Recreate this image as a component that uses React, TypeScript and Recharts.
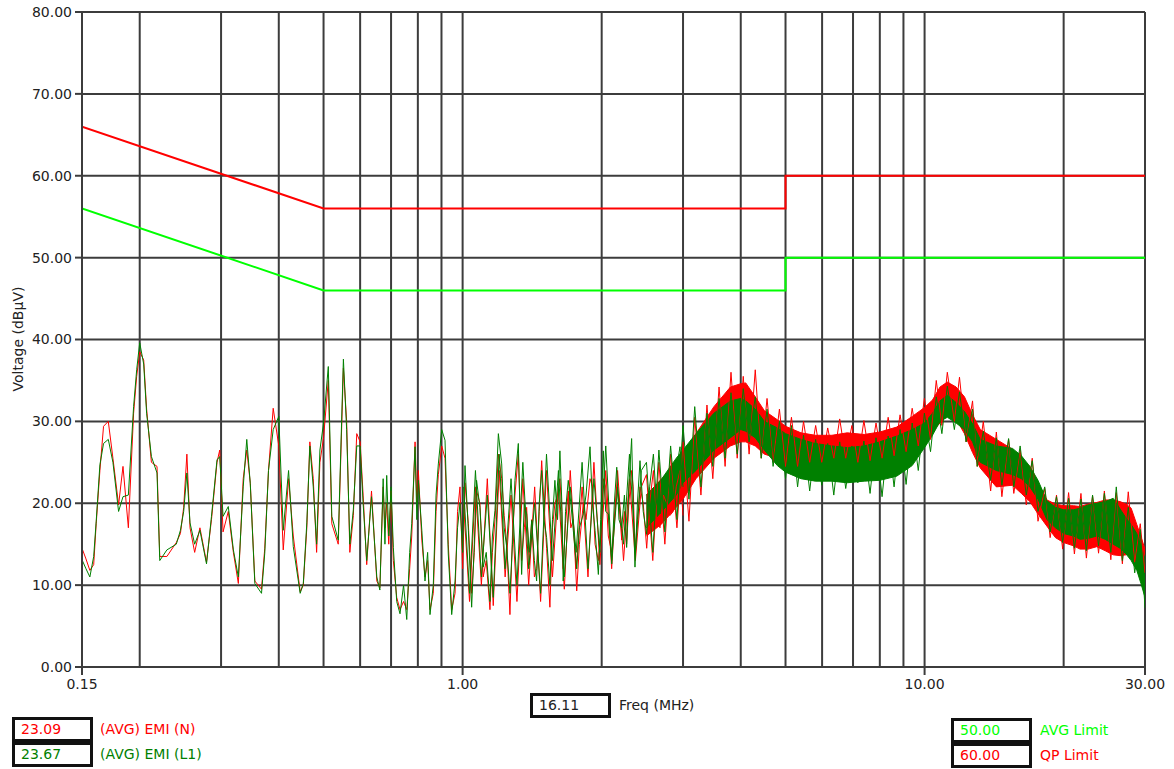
import { ComposedChart, Line, Area, XAxis, YAxis, CartesianGrid } from "recharts";

// Low band (0.15 - 3 MHz) trace readings, MHz / dBµV
const LOW_FREQ = [
  0.150, 0.153, 0.156, 0.159, 0.161, 0.164, 0.167, 0.171, 0.175, 0.180,
  0.184, 0.189, 0.194, 0.197, 0.200, 0.204, 0.207, 0.212, 0.218, 0.221,
  0.229, 0.240, 0.245, 0.249, 0.253, 0.257, 0.263, 0.270, 0.279, 0.286,
  0.294, 0.298, 0.303, 0.311, 0.319, 0.327, 0.335, 0.341, 0.347, 0.355,
  0.367, 0.373, 0.380, 0.389, 0.400, 0.409, 0.420, 0.430, 0.445, 0.452,
  0.460, 0.467, 0.475, 0.483, 0.491, 0.500, 0.512, 0.521, 0.538, 0.552,
  0.561, 0.570, 0.580, 0.590, 0.600, 0.609, 0.620, 0.635, 0.652, 0.662,
  0.673, 0.679, 0.685, 0.692, 0.700, 0.708, 0.720, 0.732, 0.745, 0.757,
  0.768, 0.776, 0.789, 0.796, 0.802, 0.816, 0.829, 0.840, 0.850, 0.864,
  0.876, 0.886, 0.901, 0.916, 0.931, 0.947, 0.963, 0.975, 0.987, 1.000,
  1.012, 1.029, 1.046, 1.060, 1.072, 1.090, 1.108, 1.125, 1.146, 1.160,
  1.175, 1.195, 1.215, 1.230, 1.246, 1.266, 1.282, 1.298, 1.320, 1.342,
  1.360, 1.376, 1.394, 1.411, 1.430, 1.446, 1.465, 1.483, 1.500, 1.520,
  1.545, 1.565, 1.584, 1.605, 1.624, 1.640, 1.651, 1.670, 1.693, 1.715,
  1.736, 1.766, 1.790, 1.825, 1.850, 1.887, 1.910, 1.935, 1.967, 1.990,
  2.016, 2.040, 2.067, 2.103, 2.130, 2.156, 2.180, 2.210, 2.240, 2.265,
  2.290, 2.322, 2.340, 2.361, 2.390, 2.421, 2.460, 2.503, 2.540, 2.588,
  2.630, 2.675, 2.720, 2.766, 2.810, 2.857, 2.900, 2.955, 3.000,
];

const EMI_L1 = [
  13.1, 12.0, 11.0, 13.5, 17.8, 24.7, 27.3, 27.8, 25.0, 19.0,
  20.8, 21.0, 31.8, 36.3, 39.6, 37.0, 31.0, 25.7, 23.7, 13.0,
  14.3, 15.0, 16.7, 19.0, 23.7, 17.6, 15.0, 16.7, 12.6, 18.4,
  25.3, 25.7, 18.4, 19.6, 14.3, 11.0, 22.0, 27.8, 22.4, 10.2,
  9.0, 13.9, 24.0, 29.0, 30.6, 16.7, 24.0, 14.7, 9.0, 10.2,
  17.6, 27.0, 22.0, 15.0, 26.5, 29.8, 36.7, 18.4, 15.5, 37.6,
  29.0, 15.0, 19.2, 27.0, 27.0, 20.0, 13.0, 20.8, 11.0, 9.4,
  23.0, 15.0, 23.4, 16.0, 22.0, 14.6, 8.0, 6.5, 10.0, 5.8,
  14.0, 17.5, 26.9, 18.0, 22.8, 16.7, 10.5, 14.0, 6.4, 10.0,
  21.0, 24.8, 29.0, 27.7, 13.8, 6.4, 10.5, 17.0, 20.0, 14.0,
  24.6, 16.7, 7.3, 15.0, 22.8, 19.5, 12.2, 14.0, 8.0, 16.0,
  19.1, 28.5, 24.8, 17.0, 14.6, 9.0, 15.0, 22.8, 27.3, 11.3,
  20.0, 18.7, 14.0, 17.9, 13.0, 10.5, 20.0, 24.0, 18.0, 15.8,
  10.0, 18.0, 22.8, 18.0, 26.4, 20.0, 10.5, 19.0, 22.8, 20.0,
  16.7, 12.0, 17.0, 18.7, 21.0, 26.9, 20.0, 16.7, 11.3, 18.0,
  26.4, 19.0, 18.7, 12.6, 20.0, 24.4, 18.0, 17.0, 21.0, 14.6,
  22.0, 27.9, 20.0, 12.2, 20.0, 25.2, 19.0, 16.2, 22.0, 26.0,
  20.0, 18.7, 23.0, 23.6, 21.0, 20.7, 24.0, 26.9, 22.0,
];

const EMI_N = [
  14.5, 13.2, 11.8, 12.5, 17.5, 24.0, 29.4, 30.0, 25.5, 19.8,
  24.5, 17.0, 31.0, 35.5, 38.5, 37.5, 31.5, 25.0, 24.5, 13.5,
  13.5, 15.2, 16.3, 19.5, 26.0, 17.0, 14.0, 17.0, 12.8, 18.0,
  25.0, 26.5, 16.5, 19.0, 14.0, 10.2, 23.0, 26.5, 22.5, 10.5,
  9.5, 14.5, 24.0, 31.6, 27.0, 14.3, 23.0, 16.0, 9.2, 10.0,
  17.0, 27.5, 23.0, 14.0, 25.0, 28.0, 35.0, 17.5, 15.0, 36.5,
  30.0, 14.0, 18.5, 28.5, 27.5, 21.0, 12.5, 21.5, 10.5, 9.7,
  22.0, 17.0, 20.0, 15.0, 21.5, 13.0, 8.5, 7.0, 8.0, 7.0,
  12.0, 16.0, 27.5, 20.0, 24.0, 15.5, 11.0, 13.0, 7.0, 9.0,
  19.0, 23.5, 27.0, 25.5, 15.0, 7.0, 9.0, 19.0, 22.0, 12.0,
  22.5, 17.5, 9.0, 14.0, 21.5, 20.0, 11.0, 13.0, 7.0, 14.0,
  18.0, 26.0, 23.0, 18.5, 15.0, 6.4, 16.0, 21.0, 26.0, 13.0,
  17.0, 19.5, 12.5, 18.0, 11.0, 12.0, 19.0, 25.2, 20.0, 14.5,
  7.3, 17.0, 20.0, 21.0, 23.0, 19.0, 12.0, 17.5, 21.5, 17.0,
  18.0, 9.3, 15.0, 20.0, 18.0, 23.0, 22.0, 15.0, 13.0, 16.0,
  23.0, 22.0, 16.0, 14.0, 18.0, 22.0, 20.0, 15.5, 19.0, 15.0,
  20.0, 24.0, 22.0, 14.0, 18.0, 22.0, 20.0, 14.5, 20.0, 24.0,
  18.0, 17.0, 21.0, 20.0, 18.5, 19.0, 22.0, 24.0, 18.5,
];

// Dense part (2.5 - 30 MHz): solid core of the noise, low/high
const BAND_FREQ = [
  2.5, 2.7, 2.9, 3.0, 3.2, 3.5, 3.8, 4.0, 4.1, 4.3,
  4.5, 4.8, 5.0, 5.4, 5.8, 6.3, 6.8, 7.4, 8.0, 8.7,
  9.4, 10.0, 10.4, 10.8, 11.2, 11.7, 12.2, 12.7, 13.2, 14.3,
  15.5, 16.2, 16.9, 17.6, 18.4, 19.2, 20.0, 21.0, 21.7, 22.6,
  23.6, 24.6, 25.6, 26.5, 27.3, 28.0, 28.8, 29.4, 30.0,
];
const L1_HI = [
  21, 23, 25.5, 26.5, 28.5, 31, 32.5, 32.8, 32.5, 31.5,
  30, 29.2, 28.5, 27.8, 27.3, 27, 26.8, 27, 27.5, 28.2,
  29, 29.8, 31, 32.5, 33.2, 32.3, 31.2, 29.7, 27.8, 27,
  26.7, 25.8, 24.5, 22.8, 20.3, 19.5, 19.2, 19.2, 19.4, 19.8,
  20, 20.2, 20.6, 19.3, 18.2, 17.4, 16.3, 14.8, 13.2,
];
const L1_LO = [
  17, 19, 21, 22.5, 24, 26.5, 28, 29, 28.8, 28,
  26.5, 24.6, 23.8, 23, 22.7, 22.7, 22.5, 22.7, 22.8, 23.3,
  24.6, 26.8, 28.3, 30, 30.5, 29.8, 29, 27.5, 25, 24,
  23.5, 23, 22, 20.5, 18, 17, 16.3, 16, 15.6, 15.7,
  16, 15.6, 15, 14.5, 13.8, 13, 11.8, 10.2, 8.5,
];
const N_HI = [
  21, 23, 25, 26, 28.5, 31.8, 34.2, 34.6, 34.7, 33,
  31.3, 30.2, 29.4, 28.6, 28.3, 28.3, 28.6, 28.4, 28.7, 29.3,
  30.6, 31.7, 32.6, 34.2, 34.8, 34.2, 33, 30.8, 29, 27.8,
  26.6, 25.3, 24.5, 22.4, 20.4, 19.9, 19.7, 19.7, 19.6, 19.9,
  20.1, 20.4, 20.4, 20.2, 19.9, 19.4, 17.4, 15.9, 14.4,
];
const N_LO = [
  16, 17.5, 19.5, 20.5, 23, 25.5, 27, 27.5, 27.5, 27,
  26, 25.5, 25.2, 25.4, 25.6, 25.8, 25.8, 25.6, 25.8, 26.3,
  27, 27.8, 28.8, 29.8, 30.8, 30.3, 28.5, 26.2, 24.3, 22,
  22.2, 21.2, 20.2, 18.7, 17.2, 15.8, 15.2, 14.8, 14.4, 14.4,
  14.7, 14.2, 13.7, 13.6, 13.7, 14.1, 13.6, 13.1, 12.2,
];

// Noise spikes reaching beyond the core (1 - 30 MHz)
const SPIKE_FREQ = [
  1.005, 1.035, 1.066, 1.098, 1.131, 1.165, 1.200, 1.236, 1.273, 1.311,
  1.350, 1.390, 1.432, 1.475, 1.519, 1.565, 1.612, 1.660, 1.710, 1.761,
  1.814, 1.868, 1.924, 1.982, 2.041, 2.102, 2.165, 2.230, 2.297, 2.366,
  2.437,
  2.50, 2.58, 2.66, 2.74, 2.82, 2.91, 3.00, 3.09, 3.18, 3.28,
  3.38, 3.48, 3.59, 3.70, 3.81, 3.93, 4.05, 4.17, 4.30, 4.43,
  4.56, 4.70, 4.85, 5.00, 5.15, 5.31, 5.47, 5.64, 5.81, 5.99,
  6.17, 6.36, 6.55, 6.75, 6.96, 7.17, 7.39, 7.62, 7.85, 8.09,
  8.34, 8.59, 8.85, 9.12, 9.40, 9.69, 9.99, 10.3, 10.6, 10.9,
  11.2, 11.6, 11.9, 12.3, 12.7, 13.0, 13.4, 13.9, 14.3, 14.7,
  15.2, 15.6, 16.1, 16.6, 17.1, 17.6, 18.2, 18.7, 19.3, 19.9,
  20.5, 21.1, 21.8, 22.4, 23.1, 23.8, 24.5, 25.3, 26.0, 26.8,
  27.6, 28.5, 29.3, 30.0,
];
const L1_SPIKES = [
  22, 9, 24, 11, 21, 8.5, 26, 12, 23, 10,
  25, 12, 20, 9, 26, 13, 24, 11, 22, 14,
  25, 12, 23, 14, 27, 13, 22, 15, 26, 14,
  24,
  25, 14, 26.5, 16.5, 27, 18, 29.5, 20.5, 31.8, 22,
  31, 24.5, 32.8, 25.5, 33.5, 26, 34, 27.5, 33, 25.5,
  31.5, 24.5, 30, 23, 29.5, 22, 28.3, 21.5, 27.8, 22.2,
  27.3, 21, 27.5, 21.8, 27, 22.5, 27.6, 21.2, 28, 20.8,
  28.2, 22, 29, 22.3, 29.8, 24, 31, 26.3, 33, 28.5,
  34.3, 29, 33.6, 27.5, 31.5, 24.5, 28.8, 22.8, 28, 22.2,
  27.9, 22, 27, 21, 25.2, 19, 22, 16.5, 20.8, 15.2,
  20.6, 14.5, 20.5, 14.2, 21, 14.8, 21.2, 14, 22, 13,
  19.5, 11.5, 16.8, 7.2,
];
const N_SPIKES = [
  20, 8, 22, 10, 23, 7.5, 24, 11, 21, 8,
  23, 10, 22, 8, 24, 11, 22, 9.5, 24, 12,
  22, 11, 25, 12.5, 24, 12, 24, 13, 23, 13,
  22,
  23.5, 13, 25, 15, 26, 17, 27.5, 17.8, 30.5, 21,
  32, 23, 34.2, 24.5, 36, 25.5, 35.5, 26, 36.3, 25.5,
  32.8, 25, 31.5, 24.5, 30.5, 24.5, 30, 25, 29.5, 25,
  29.2, 25.5, 30.3, 25.5, 29.5, 25, 30.1, 25.2, 29.8, 25.5,
  30.5, 25.8, 30.8, 26.3, 31.6, 27, 32.8, 27.8, 35, 29.5,
  36, 30, 35.4, 27.5, 32.5, 24.5, 30, 21.5, 28.7, 20.8,
  27.8, 21.2, 26.5, 19.8, 25.5, 17.8, 21.8, 15.8, 21, 14.4,
  21.3, 13.8, 21.2, 13.3, 20.9, 13.9, 21.5, 13.1, 21.3, 12.6,
  21.4, 12.8, 17.5, 11.5,
];

// Limits
const LIMIT_FREQ = [0.15, 0.5, 5, 5, 30];
const QP_LIMIT = [66, 56, 56, 60, 60];
const AVG_LIMIT = [56, 46, 46, 50, 50];

const X_TICKS = [0.15, 0.2, 0.3, 0.4, 0.5, 0.6, 0.7, 0.8, 0.9, 1, 2, 3, 4, 5, 6, 7, 8, 9, 10, 20, 30];
const X_LABELS = [0.15, 1, 10, 30];
const Y_TICKS = [0, 10, 20, 30, 40, 50, 60, 70, 80];

const FONT = '"DejaVu Sans", sans-serif';
const GRID = "#3c3c3c";
const RED = "#ff0000";
const GREEN = "#008000";
const LIME = "#00ff00";

const lowData = LOW_FREQ.map((f, i) => ({ f, n: EMI_N[i], l1: EMI_L1[i] }));
const bandData = BAND_FREQ.map((f, i) => ({ f, n: [N_LO[i], N_HI[i]], l1: [L1_LO[i], L1_HI[i]] }));
const spikeData = SPIKE_FREQ.map((f, i) => ({ f, n: N_SPIKES[i], l1: L1_SPIKES[i] }));
const limitData = LIMIT_FREQ.map((f, i) => ({ f, qp: QP_LIMIT[i], avg: AVG_LIMIT[i] }));

function FreqTick({ x, y, payload }: any) {
  if (!X_LABELS.includes(payload.value)) return <g />;
  return (
    <g>
      <line x1={x} x2={x} y1={y - 11} y2={y - 3} stroke={GRID} strokeWidth={2} />
      <text x={x} y={y} dy="0.75em" textAnchor="middle" fill="#222" fontSize={14} fontFamily={FONT}>
        {payload.value.toFixed(2)}
      </text>
    </g>
  );
}

function Readout({ left, top, value, color }: { left: number; top: number; value: string; color: string }) {
  return (
    <div
      style={{
        position: "absolute",
        left,
        top,
        width: 81,
        height: 25,
        boxSizing: "border-box",
        border: "3px solid #111",
        background: "#fff",
        color,
        paddingLeft: 6,
        lineHeight: "19px",
      }}
    >
      {value}
    </div>
  );
}

function Caption({ left, top, text, color }: { left: number; top: number; text: string; color: string }) {
  return (
    <div style={{ position: "absolute", left, top, lineHeight: "25px", color, whiteSpace: "nowrap" }}>{text}</div>
  );
}

export default function App() {
  return (
    <div
      style={{
        position: "absolute",
        left: 0,
        top: 0,
        width: 1174,
        height: 769,
        background: "#fff",
        fontFamily: FONT,
        fontSize: 14,
      }}
    >
      <ComposedChart width={1174} height={769} margin={{ top: 12, right: 29, bottom: 72, left: 0 }}>
        <CartesianGrid stroke={GRID} strokeWidth={2} />
        <XAxis
          dataKey="f"
          type="number"
          scale="log"
          domain={[0.15, 30]}
          allowDataOverflow
          ticks={X_TICKS}
          interval={0}
          height={30}
          tickSize={7}
          tickMargin={4}
          tickLine={false}
          axisLine={{ stroke: GRID, strokeWidth: 2 }}
          tick={<FreqTick />}
        />
        <YAxis
          type="number"
          domain={[0, 80]}
          ticks={Y_TICKS}
          interval={0}
          width={82}
          tickSize={7}
          tickMargin={3}
          tickFormatter={(v: number) => v.toFixed(2)}
          tick={{ fill: "#222", fontSize: 14, fontFamily: FONT }}
          tickLine={{ stroke: GRID, strokeWidth: 2 }}
          axisLine={{ stroke: GRID, strokeWidth: 2 }}
        />
        {/* EMI (N) - red, drawn first */}
        <Area data={bandData} dataKey="n" stroke={RED} strokeWidth={1} fill={RED} fillOpacity={1} isAnimationActive={false} />
        <Line data={lowData} dataKey="n" stroke={RED} strokeWidth={1} dot={false} isAnimationActive={false} />
        <Line data={spikeData} dataKey="n" stroke={RED} strokeWidth={1} dot={false} isAnimationActive={false} />
        {/* EMI (L1) - green on top */}
        <Area data={bandData} dataKey="l1" stroke={GREEN} strokeWidth={1} fill={GREEN} fillOpacity={1} isAnimationActive={false} />
        <Line data={lowData} dataKey="l1" stroke={GREEN} strokeWidth={1} dot={false} isAnimationActive={false} />
        <Line data={spikeData} dataKey="l1" stroke={GREEN} strokeWidth={1} dot={false} isAnimationActive={false} />
        {/* limits */}
        <Line data={limitData} dataKey="qp" stroke={RED} strokeWidth={2} dot={false} isAnimationActive={false} />
        <Line data={limitData} dataKey="avg" stroke={LIME} strokeWidth={2} dot={false} isAnimationActive={false} />
      </ComposedChart>

      <div
        style={{
          position: "absolute",
          left: 18,
          top: 339,
          transform: "translate(-50%, -50%) rotate(-90deg)",
          whiteSpace: "nowrap",
          color: "#222",
        }}
      >
        Voltage (dBµV)
      </div>

      <Readout left={530} top={693} value="16.11" color="#222" />
      <Caption left={619} top={693} text="Freq (MHz)" color="#222" />

      <Readout left={12} top={717} value="23.09" color={RED} />
      <Caption left={100} top={717} text="(AVG) EMI (N)" color={RED} />
      <Readout left={12} top={742} value="23.67" color={GREEN} />
      <Caption left={100} top={742} text="(AVG) EMI (L1)" color={GREEN} />

      <Readout left={951} top={718} value="50.00" color={LIME} />
      <Caption left={1040} top={718} text="AVG Limit" color={LIME} />
      <Readout left={951} top={743} value="60.00" color={RED} />
      <Caption left={1040} top={743} text="QP Limit" color={RED} />
    </div>
  );
}
